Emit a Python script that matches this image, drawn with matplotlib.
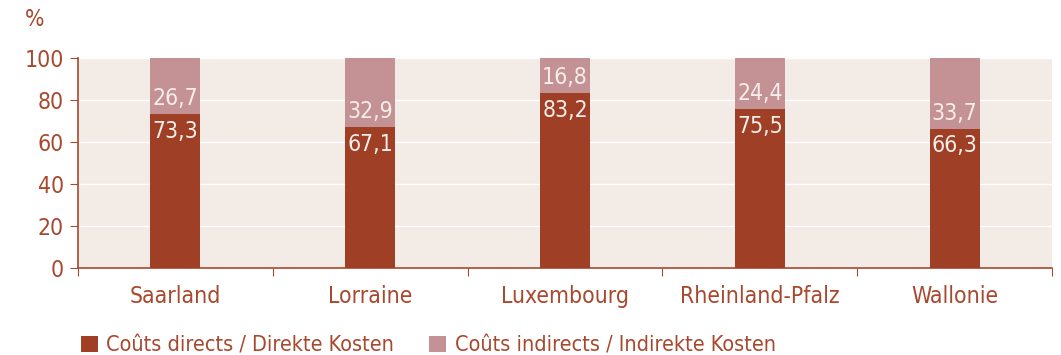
import matplotlib.pyplot as plt
import numpy as np

regions = ['Saarland', 'Lorraine', 'Luxembourg', 'Rheinland-Pfalz', 'Wallonie']
direct = [73.3, 67.1, 83.2, 75.5, 66.3]
indirect = [26.7, 32.9, 16.8, 24.4, 33.7]
yticks = [0, 20, 40, 60, 80, 100]

dark = '#9E3F26'
light = '#C49194'
txt = '#A8482E'
bg = '#F3EBE5'

plt.rcParams['font.family'] = ['DejaVu Sans']
plt.rcParams['font.stretch'] = 'condensed'
plt.rcParams['font.size'] = 15

fig = plt.figure(figsize=(10.61, 3.55), dpi=100)
ax = fig.add_axes([78 / 1061, 1 - 268 / 355, 974 / 1061, 210 / 355])
ax.set_facecolor(bg)

x = np.arange(len(regions))
w = 0.256
b1 = ax.bar(x, direct, w, color=dark, zorder=3, label='Coûts directs / Direkte Kosten')
b2 = ax.bar(x, indirect, w, bottom=direct, color=light, zorder=3,
            label='Coûts indirects / Indirekte Kosten')

for xi, d, i in zip(x, direct, indirect):
    ax.annotate(f'{d:.1f}'.replace('.', ','), (xi, d), xytext=(0, -4),
                textcoords='offset points', ha='center', va='top',
                color='#F6EEEA', fontsize=16.5, zorder=4)
    ax.annotate(f'{i:.1f}'.replace('.', ','), (xi, d), xytext=(0, 3),
                textcoords='offset points', ha='center', va='bottom',
                color='#F6EEEA', fontsize=16.5, zorder=4)

ax.set_xlim(-0.5, len(regions) - 0.5)
ax.set_ylim(0, 100)
ax.set_yticks(yticks)
ax.yaxis.grid(True, color='white', linewidth=1.0, zorder=1)
ax.set_axisbelow(True)

# category names centred, ticks on the boundaries
ax.set_xticks(np.arange(len(regions) + 1) - 0.5)
ax.set_xticklabels([])
ax.set_xticks(x, minor=True)
ax.set_xticklabels(regions, minor=True)
ax.tick_params(axis='x', which='minor', length=0, pad=12, labelcolor=txt, labelsize=16.5)
ax.tick_params(axis='x', which='major', length=6, color=txt, direction='out')
ax.tick_params(axis='y', length=6, color=txt, labelcolor=txt, labelsize=16.5, pad=4)

for s in ['top', 'right']:
    ax.spines[s].set_visible(False)
for s in ['left', 'bottom']:
    ax.spines[s].set_color(txt)
    ax.spines[s].set_linewidth(1.2)

fig.text(25 / 1061, 1 - 20 / 355, '%', color=txt, fontsize=16.5, ha='left', va='center')

leg = fig.legend(handles=[b1, b2], loc='lower left', bbox_to_anchor=(72 / 1061, -0.025),
                 ncol=2, frameon=False, fontsize=15.5, handlelength=0.8, handleheight=0.8,
                 handletextpad=0.4, columnspacing=1.6, borderaxespad=0)
for t in leg.get_texts():
    t.set_color(txt)

fig.savefig('out.png', dpi=100)
